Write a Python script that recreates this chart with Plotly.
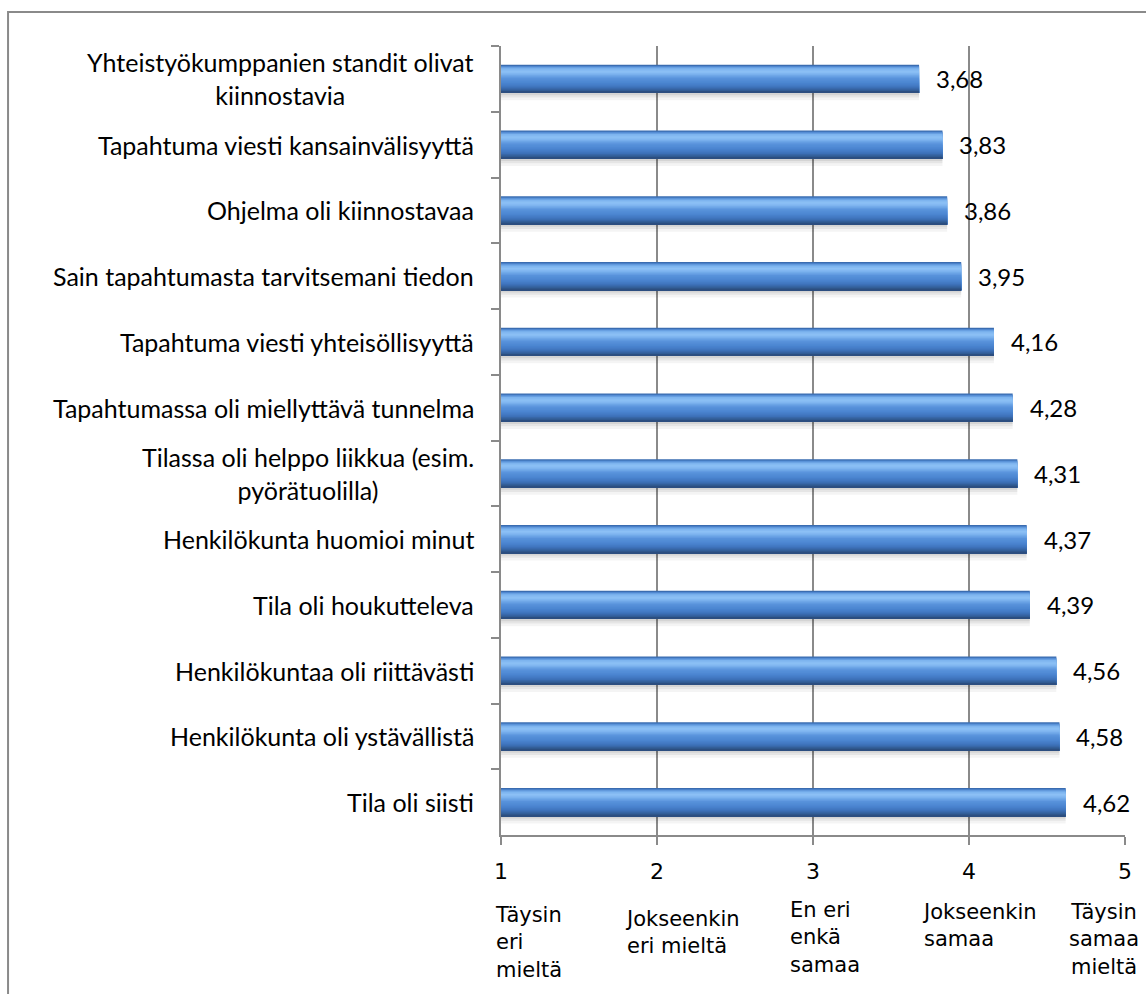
import plotly.graph_objects as go

# Survey statements (top to bottom) and their mean scores on a 1-5 scale
statements = [
    "Yhteistyökumppanien standit olivat<br>kiinnostavia",
    "Tapahtuma viesti kansainvälisyyttä",
    "Ohjelma oli kiinnostavaa",
    "Sain tapahtumasta tarvitsemani tiedon",
    "Tapahtuma viesti yhteisöllisyyttä",
    "Tapahtumassa oli miellyttävä tunnelma",
    "Tilassa oli helppo liikkua (esim.<br>pyörätuolilla)",
    "Henkilökunta huomioi minut",
    "Tila oli houkutteleva",
    "Henkilökuntaa oli riittävästi",
    "Henkilökunta oli ystävällistä",
    "Tila oli siisti",
]
scores = [3.68, 3.83, 3.86, 3.95, 4.16, 4.28, 4.31, 4.37, 4.39, 4.56, 4.58, 4.62]

# Scale points and their verbal anchors
scale_values = [1, 2, 3, 4, 5]
scale_names = [
    "Täysin<br>eri<br>mieltä",
    "Jokseenkin<br>eri mieltä",
    "En eri<br>enkä<br>samaa",
    "Jokseenkin<br>samaa",
    "Täysin<br>samaa<br>mieltä",
]

GREY = "#8a8a8a"
LABEL_FONT = "Lato, Calibri, sans-serif"
SCALE_FONT = "DejaVu Sans, Tahoma, sans-serif"

fig = go.Figure()

thickness = 0.43

# Soft drop shadow under each bar
for a, b, col in [(0.95, 1.26, "rgba(0,0,0,0.045)"), (0.95, 1.16, "rgba(0,0,0,0.06)"),
                  (0.95, 1.08, "rgba(0,0,0,0.07)")]:
    fig.add_trace(go.Bar(
        y=statements, x=scores, orientation="h",
        width=(b - a) * thickness, offset=-thickness / 2 + a * thickness,
        marker=dict(color=col, line=dict(width=0)),
        showlegend=False, hoverinfo="skip",
    ))

# Colour stops across the bar thickness (0 = top edge, 1 = bottom edge)
gradient_stops = [
    (0.00, (0x2f, 0x5e, 0x9f)),
    (0.06, (0x4e, 0x86, 0xcf)),
    (0.14, (0x7c, 0xb3, 0xef)),
    (0.24, (0x8e, 0xc2, 0xf6)),
    (0.34, (0x7a, 0xb1, 0xee)),
    (0.48, (0x58, 0x92, 0xdb)),
    (0.66, (0x4a, 0x84, 0xcf)),
    (0.80, (0x3d, 0x72, 0xbb)),
    (0.92, (0x31, 0x5a, 0x90)),
    (1.00, (0x2a, 0x4a, 0x7a)),
]


def shade_at(t):
    for (t0, c0), (t1, c1) in zip(gradient_stops, gradient_stops[1:]):
        if t0 <= t <= t1:
            f = (t - t0) / (t1 - t0)
            r, g, b = (round(p + (q - p) * f) for p, q in zip(c0, c1))
            return f"rgb({r},{g},{b})"
    return "rgb(42,74,122)"


# Each band starts a little lower and runs to the bottom edge, so later
# bands cover earlier ones and no seams appear between them
n_bands = 24
for i in range(n_bands):
    a = i / n_bands
    fig.add_trace(go.Bar(
        y=statements, x=scores, orientation="h",
        width=(1.0 - a) * thickness,
        offset=-thickness / 2 + a * thickness,
        marker=dict(color=shade_at(a + 0.5 / n_bands), line=dict(width=0)),
        showlegend=False, hoverinfo="skip",
    ))

# Value labels to the right of each bar
for s, v in zip(statements, scores):
    fig.add_annotation(
        x=v, y=s, xref="x", yref="y", xanchor="left", yanchor="middle",
        xshift=15, showarrow=False,
        text=f"{v:.2f}".replace(".", ","),
        font=dict(family=LABEL_FONT, size=24, color="#000000"),
    )

# Statement labels, each line centred, right edge next to the axis
for s in statements:
    fig.add_annotation(
        x=0, y=s, xref="paper", yref="y", xanchor="right", yanchor="middle",
        xshift=-25, showarrow=False, align="center",
        text=s,
        font=dict(family=LABEL_FONT, size=25, color="#000000"),
    )

# Verbal anchors under the numeric scale
anchor_layout = [
    # (xanchor, align, xshift, yshift)
    ("left", "left", -8, -1),
    ("left", "left", -34, -5),
    ("left", "left", -25, 4),
    ("left", "left", -49, 2),
    ("center", "center", -21, 2),
]
for v, name, (xa, al, xs, ys) in zip(scale_values, scale_names, anchor_layout):
    fig.add_annotation(
        x=v, y=-0.083, xref="x", yref="paper", xanchor=xa, yanchor="top",
        align=al, xshift=xs, yshift=ys, showarrow=False,
        text=name,
        font=dict(family=SCALE_FONT, size=21, color="#000000"),
    )

# Outer frame of the chart area
fig.add_shape(
    type="rect", xref="paper", yref="paper",
    x0=-0.790, x1=1.3, y0=-0.4, y1=1.043,
    line=dict(color=GREY, width=2), fillcolor="rgba(0,0,0,0)", layer="below",
)

fig.update_layout(
    width=1146, height=994,
    margin=dict(l=501, r=21, t=46, b=159),
    paper_bgcolor="#ffffff", plot_bgcolor="#ffffff",
    barmode="overlay",
    showlegend=False,
    xaxis=dict(
        range=[1, 5], tickvals=scale_values, ticktext=[str(v) for v in scale_values],
        showgrid=True, gridcolor=GREY, gridwidth=1.5,
        showline=True, linecolor=GREY, linewidth=1.5,
        ticks="outside", ticklen=8, tickcolor=GREY, tickwidth=1.5,
        ticklabelstandoff=8,
        tickfont=dict(family=SCALE_FONT, size=22, color="#000000"),
        zeroline=False, fixedrange=True,
    ),
    yaxis=dict(
        type="category", categoryorder="array", categoryarray=statements,
        range=[len(statements) - 0.5, -0.5],
        showgrid=False, showline=True, linecolor=GREY, linewidth=1.5,
        ticks="outside", tickson="boundaries", ticklen=8, tickcolor=GREY, tickwidth=1.5,
        showticklabels=False, zeroline=False, fixedrange=True,
    ),
)

fig.write_html("out.html")
